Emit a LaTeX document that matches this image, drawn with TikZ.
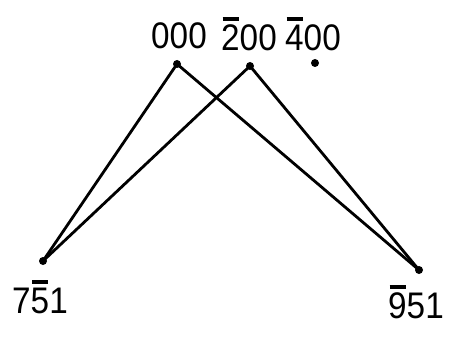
\documentclass[tikz,border=0pt]{standalone}
\usepackage{fontspec}
\setmainfont{Liberation Sans}
\newcommand{\ob}[1]{\leavevmode\rlap{\hspace{0.04em}\rule[0.80em]{0.48em}{0.09em}}#1}
\begin{document}
\begin{tikzpicture}[x=1pt,y=-1pt,
  lbl/.style={font=\fontsize{37}{40}\selectfont, inner sep=0pt, anchor=center, xscale=0.9},
  dot/.style={circle, fill=black, inner sep=0pt, minimum size=8pt},
  edge/.style={line width=2.8pt}]
\useasboundingbox (0,0) rectangle (450,337);
\node[lbl] (l1) at (179,36) {000};
\node[lbl] (l2) at (249,34) {\ob{2}00};
\node[lbl] (l3) at (313,34) {\ob{4}00};
\node[lbl] (l4) at (40,297) {7\ob{5}1};
\node[lbl] (l5) at (416,302) {\ob{9}51};
\node[dot] (a) at (177,64) {};
\node[dot] (b) at (250,66) {};
\node[dot] (c) at (315,63) {};
\node[dot] (d) at (43,261) {};
\node[dot] (e) at (419,270) {};
\draw[edge] (d.center) -- (a.center);
\draw[edge] (d.center) -- (b.center);
\draw[edge] (e.center) -- (a.center);
\draw[edge] (e.center) -- (b.center);
\end{tikzpicture}
\end{document}
